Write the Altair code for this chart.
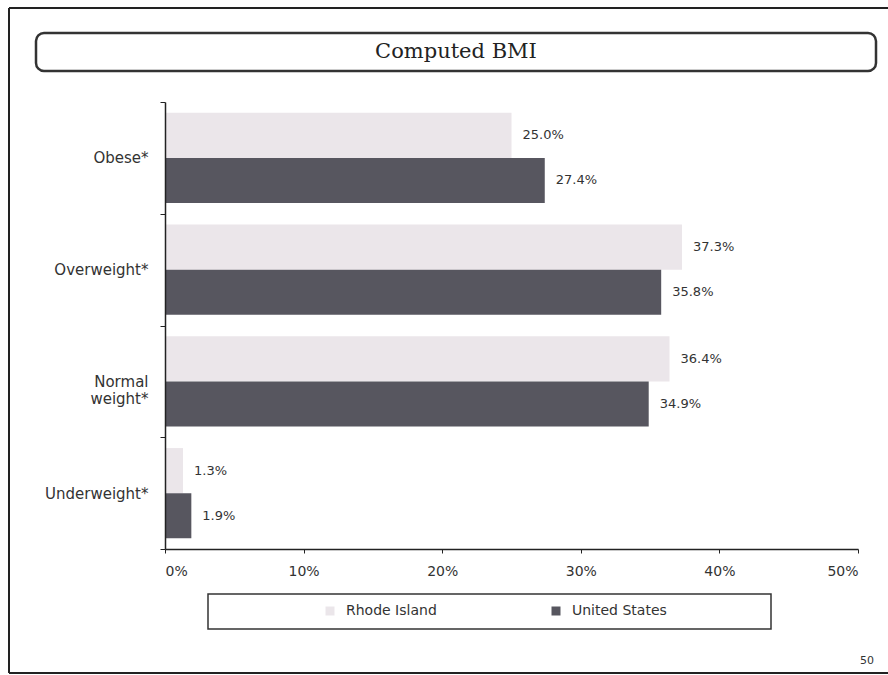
import altair as alt
import pandas as pd

# Weight categories (top to bottom) and the two survey populations
categories = ["Obese*", "Overweight*", "Normal weight*", "Underweight*"]
rhode_island = [25.0, 37.3, 36.4, 1.3]
united_states = [27.4, 35.8, 34.9, 1.9]
series = ["Rhode Island", "United States"]
series_colors = ["#ebe6ea", "#57565f"]
x_ticks = [0, 10, 20, 30, 40, 50]
chart_title = "Computed BMI"
page_number = "50"

rows = []
for cat, ri, us in zip(categories, rhode_island, united_states):
    rows.append({"category": cat, "area": series[0], "value": ri})
    rows.append({"category": cat, "area": series[1], "value": us})
df = pd.DataFrame(rows)

SANS = "DejaVu Sans"
SERIF = "DejaVu Serif"
INK = "#333333"

x_enc = alt.X(
    "value:Q",
    scale=alt.Scale(domain=[0, 50], nice=False),
    axis=alt.Axis(
        values=x_ticks,
        labelExpr="datum.value + '%'",
        title=None,
        grid=False,
        tickSize=4,
        labelPadding=11,
        labelFont=SANS,
        labelFontSize=14,
        labelColor=INK,
        domainColor="#222222",
        domainWidth=1.5,
        tickColor="#222222",
        zindex=1,
    ),
)
y_enc = alt.Y(
    "category:N",
    sort=categories,
    scale=alt.Scale(paddingInner=0, paddingOuter=0),
    axis=alt.Axis(
        title=None,
        tickBand="extent",
        tickSize=5,
        labelPadding=12,
        labelFont=SANS,
        labelFontSize=15,
        labelColor=INK,
        labelExpr="datum.label == 'Normal weight*' ? ['Normal', 'weight*'] : datum.label",
        domainColor="#222222",
        domainWidth=1.5,
        tickColor="#222222",
        zindex=1,
    ),
)
offset_enc = alt.YOffset(
    "area:N",
    sort=series,
    scale=alt.Scale(paddingInner=0, paddingOuter=0.24),
)

base = alt.Chart(df)

bars = base.mark_bar().encode(
    x=x_enc,
    y=y_enc,
    yOffset=offset_enc,
    color=alt.Color(
        "area:N",
        sort=series,
        scale=alt.Scale(domain=series, range=series_colors),
        legend=alt.Legend(
            orient="none",
            legendX=158,
            legendY=502,
            direction="horizontal",
            columns=2,
            columnPadding=112,
            title=None,
            symbolType="square",
            symbolSize=81,
            symbolStrokeWidth=0,
            labelOffset=9,
            labelFont=SANS,
            labelFontSize=14,
            labelColor=INK,
            padding=0,
        ),
    ),
)

value_labels = base.transform_calculate(
    label="format(datum.value, '.1f') + '%'"
).mark_text(
    align="left", baseline="middle", dx=11, font=SANS, fontSize=13, color=INK
).encode(
    x="value:Q",
    y=alt.Y("category:N", sort=categories),
    yOffset=alt.YOffset("area:N", sort=series),
    text="label:N",
)

one_row = alt.Data(values=[{"title": chart_title, "page": page_number}])

# Page frame: left, top and bottom edges
frame_left = alt.Chart(one_row).mark_rule(color="#222222", strokeWidth=2).encode(
    x=alt.value(-156), y=alt.value(-94), y2=alt.value(571)
)
frame_top = alt.Chart(one_row).mark_rule(color="#222222", strokeWidth=2).encode(
    x=alt.value(-156), x2=alt.value(740), y=alt.value(-94)
)
frame_bottom = alt.Chart(one_row).mark_rule(color="#222222", strokeWidth=2).encode(
    x=alt.value(-156), x2=alt.value(740), y=alt.value(571)
)

# Rounded title box and title text
title_box = alt.Chart(one_row).mark_rect(
    fill="white", stroke="#333333", strokeWidth=2.5, cornerRadius=8
).encode(
    x=alt.value(-129), x2=alt.value(711), y=alt.value(-69), y2=alt.value(-31)
)
title_text = alt.Chart(one_row).mark_text(
    font=SERIF, fontSize=21, color="#222222", align="center", baseline="middle"
).encode(x=alt.value(291), y=alt.value(-50), text="title:N")

# Box around the legend
legend_box = alt.Chart(one_row).mark_rect(
    fill="white", stroke="#333333", strokeWidth=1.5
).encode(
    x=alt.value(43), x2=alt.value(606), y=alt.value(492), y2=alt.value(527)
)

page_text = alt.Chart(one_row).mark_text(
    font=SANS, fontSize=11, color=INK, align="center", baseline="middle"
).encode(x=alt.value(702), y=alt.value(559), text="page:N")

chart = alt.layer(
    frame_left, frame_top, frame_bottom, title_box, title_text,
    legend_box, page_text, bars, value_labels
).properties(
    width=693,
    height=447,
    autosize=alt.AutoSizeParams(type="none"),
    padding={"left": 165, "top": 102, "right": 30, "bottom": 126},
    background="white",
).configure_view(stroke=None)

chart.save("out.html", embed_options={"renderer": "svg", "actions": False})
